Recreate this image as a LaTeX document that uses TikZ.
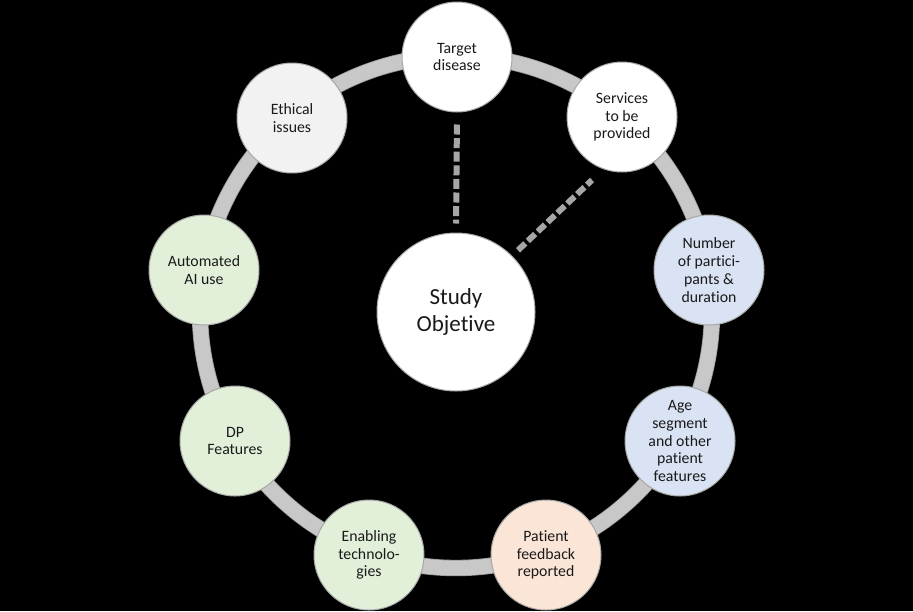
\documentclass[tikz,border=0pt]{standalone}
\usepackage{fontspec}
\setmainfont{Carlito}[Ligatures={NoCommon}]
\definecolor{ringc}{HTML}{C8C8C8}
\definecolor{ringe}{HTML}{9A9A9A}
\definecolor{dashc}{HTML}{A6A6A6}
\definecolor{txt}{HTML}{1A1A1A}
\definecolor{cwhite}{HTML}{FFFFFF}
\definecolor{cgray}{HTML}{F2F2F2}
\definecolor{cgreen}{HTML}{E2F0D9}
\definecolor{cblue}{HTML}{DAE3F3}
\definecolor{corange}{HTML}{FBE5D6}
\tikzset{
  bub/.style={circle, draw=gray!70, line width=0.5pt, minimum size=55pt, inner sep=0pt,
    align=center, text=txt, font=\fontsize{7.9}{8.9}\selectfont},
  bigbub/.style={circle, draw=gray!70, line width=0.5pt, fill=white, minimum size=79pt, inner sep=0pt,
    align=center, text=txt, font=\fontsize{11.5}{13.5}\selectfont},
  dashlink/.style={draw=dashc, line width=3pt, dash pattern=on 5pt off 1.8pt}
}
\begin{document}
\begin{tikzpicture}[x=0.5pt,y=-0.5pt]
\fill[black] (0,0) rectangle (913,611);
\useasboundingbox (0,0) rectangle (913,611);
\coordinate (c) at (456,312);
% ring
\draw[ringe, line width=8.2pt] (c) circle[radius=128pt];
\draw[ringc, line width=7.4pt] (c) circle[radius=128pt];
% nodes
\node[bigbub] (study) at (456,312) {Study\\Objetive};
\node[bub, fill=cwhite] (target) at (457,57) {Target\\disease};
\node[bub, fill=cwhite] (services) at (622,117) {Services\\to be\\provided};
\node[bub, fill=cblue] (number) at (709,270) {Number\\of partici-\\pants \&\\duration};
\node[bub, fill=cblue] (age) at (680,441) {Age\\segment\\and other\\patient\\features};
\node[bub, fill=corange] (patient) at (546,555) {Patient\\feedback\\reported};
\node[bub, fill=cgreen] (enabling) at (369,555) {Enabling\\technolo-\\gies};
\node[bub, fill=cgreen] (dp) at (235,441) {DP\\Features};
\node[bub, fill=cgreen] (auto) at (204,270) {Automated\\AI use};
\node[bub, fill=cgray] (ethical) at (292,118) {Ethical\\issues};
% dashed links
\coordinate (dend) at (592,180);
\draw[dashlink, shorten >=4.5pt, shorten <=6pt] (target.south) -- (study.north);
\draw[dashlink, shorten <=4pt] (study.45) -- (dend);
\end{tikzpicture}
\end{document}
